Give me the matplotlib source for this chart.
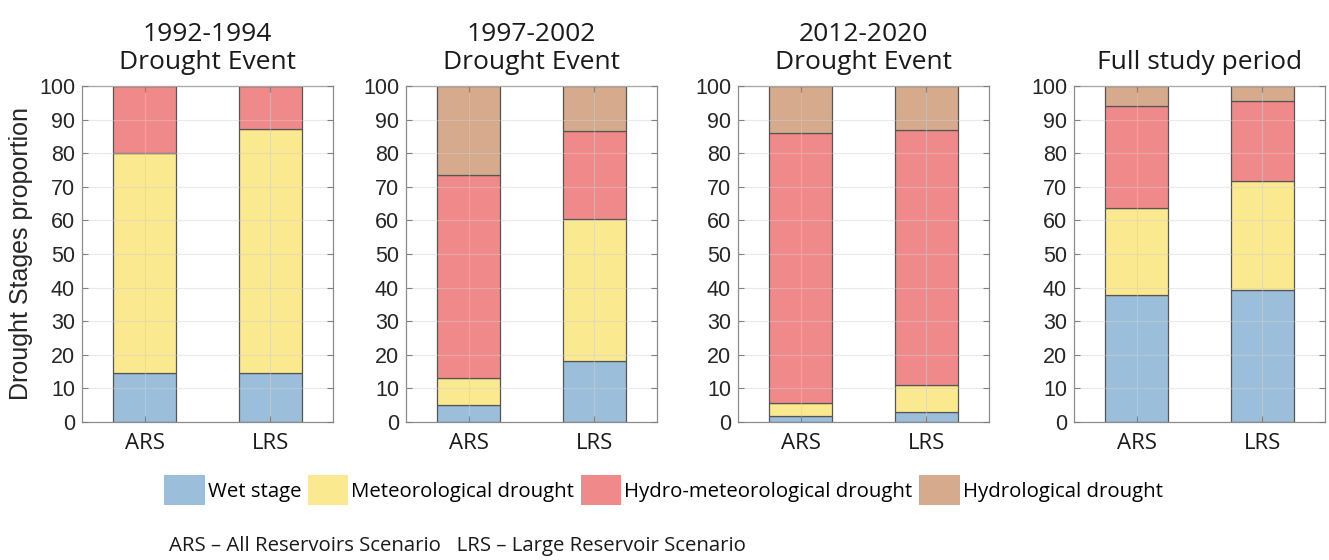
import numpy as np
import matplotlib
matplotlib.use("Agg")
from matplotlib import pyplot as plt

# stage shares (%) per scenario, bottom to top
titles = ["1992-1994\nDrought Event", "1997-2002\nDrought Event",
          "2012-2020\nDrought Event", "Full study period"]
scenarios = ["ARS", "LRS"]
stages = ["Wet stage", "Meteorological drought",
          "Hydro-meteorological drought", "Hydrological drought"]

wet = [[14.5, 14.5], [5.1, 18.2], [1.8, 2.9], [37.9, 39.3]]
met = [[65.5, 72.7], [7.9, 42.2], [4.0, 8.1], [25.7, 32.3]]
hydromet = [[20.0, 12.8], [60.5, 26.3], [80.1, 75.9], [30.5, 23.9]]
hydro = [[0.0, 0.0], [26.5, 13.3], [14.1, 13.1], [5.9, 4.5]]

colors = ["#9bbfdb", "#fbe98f", "#f08a8a", "#d5aa8d"]

plt.rcParams["font.family"] = ["Liberation Sans", "DejaVu Sans"]
label_font = ["Open Sans", "DejaVu Sans"]

fig = plt.figure(figsize=(13.29, 5.6), dpi=100)
W, H = 1329, 560
lefts = [82, 406, 738, 1074]
ax_w = 251
top, bottom = 86, 422

x = np.arange(1, 3)
handles = []
for k in range(4):
    ax = fig.add_axes([lefts[k] / W, 1 - bottom / H, ax_w / W, (bottom - top) / H])
    base = np.zeros(2)
    for s, series in enumerate([wet, met, hydromet, hydro]):
        vals = np.array(series[k])
        b = ax.bar(x, vals, width=0.5, bottom=base, color=colors[s],
                   edgecolor="#555555", linewidth=0.9, label=stages[s])
        base = base + vals
        if k == 1:
            handles.append(b)
    ax.set_xlim(0.5, 2.5)
    ax.set_ylim(0, 100)
    ax.set_yticks(np.arange(0, 101, 10))
    ax.set_xticks(x)
    ax.set_xticklabels(scenarios, fontfamily=label_font, fontsize=16)
    ax.tick_params(axis="y", labelsize=15.5, labelcolor="#262626")
    ax.tick_params(direction="in", right=True, top=True, length=4,
                   color="#808080", pad=5)
    ax.tick_params(axis="x", pad=8, labelcolor="#1a1a1a")
    ax.grid(True, color="#d0d0d0", alpha=0.45, linewidth=0.8)
    ax.set_axisbelow(False)
    for sp in ax.spines.values():
        sp.set_color("#8c8c8c")
        sp.set_linewidth(0.9)
    ax.set_title(titles[k], fontfamily=label_font, fontsize=19,
                 linespacing=1.2, pad=12, color="#1a1a1a")
    if k == 0:
        ax.set_ylabel("Drought Stages proportion", fontsize=18,
                      color="#262626", labelpad=4)

leg = fig.legend(handles=handles, labels=stages, loc="center left",
                 bbox_to_anchor=(164 / W, 1 - 490 / H), ncol=4, frameon=False,
                 prop={"family": label_font, "size": 14.7},
                 handlelength=2.0, handleheight=1.95, handletextpad=0.15,
                 columnspacing=0.3, borderpad=0, borderaxespad=0)
for p in leg.get_patches():
    p.set_edgecolor("none")

fig.text(169 / W, 1 - 546 / H,
         "ARS \u2013 All Reservoirs Scenario   LRS \u2013 Large Reservoir Scenario",
         fontfamily=label_font, fontsize=14.7, va="center", ha="left",
         color="#1a1a1a")

fig.savefig("out.png", dpi=100)
